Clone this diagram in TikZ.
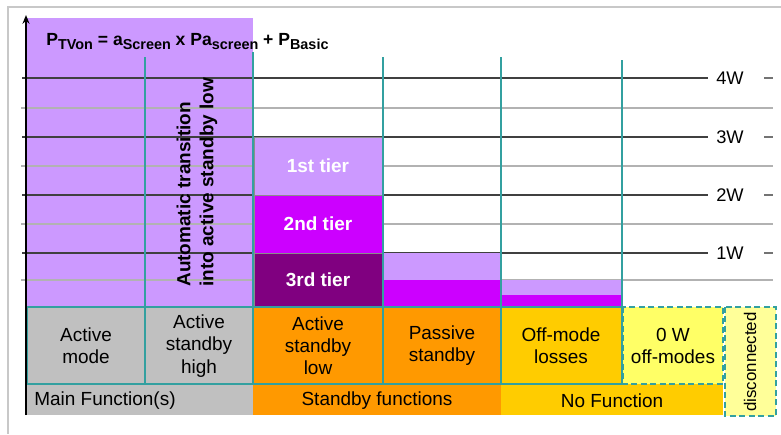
\documentclass[tikz,border=0pt]{standalone}
\usepackage{fontspec}
\setmainfont{Liberation Sans}
\usetikzlibrary{arrows.meta}

\definecolor{lilac}{HTML}{CC99FF}
\definecolor{tiermagenta}{HTML}{CC00FF}
\definecolor{tierplum}{HTML}{800080}
\definecolor{modegray}{HTML}{C0C0C0}
\definecolor{standbyorange}{HTML}{FF9900}
\definecolor{offgold}{HTML}{FFCC00}
\definecolor{zeroyellow}{HTML}{FFFF66}
\definecolor{unplugyellow}{HTML}{FFFF99}
\definecolor{tealline}{RGB}{51,160,160}
\definecolor{framegray}{RGB}{200,200,200}

%% subscripts of the power formula
\newcommand\lowsub[1]{\raisebox{-2.8pt}{\fontsize{8.2pt}{9pt}\selectfont #1}}

\tikzset{
  grid major/.style={draw=black!75, line width=0.6pt},
  grid minor/.style={draw=black!30, line width=0.6pt},
  divider/.style={draw=tealline, line width=1.1pt},
  tierbar/.style={draw=black!45, line width=0.3pt},
  dashbox/.style={draw=tealline, line width=1.1pt, dash pattern=on 3.4pt off 2pt},
  celltext/.style={font=\fontsize{10.8pt}{12.6pt}\selectfont, align=center, inner sep=0pt},
  tiertext/.style={celltext, font=\fontsize{10.8pt}{12.6pt}\selectfont\bfseries, text=white},
  wlabel/.style={font=\fontsize{10.4pt}{12pt}\selectfont, inner sep=0pt},
}

\begin{document}
\begin{tikzpicture}[x=0.02cm,y=-0.02cm]
    \useasboundingbox (0,0) rectangle (781,434);
    %% frame
    \draw[framegray, line width=1.1pt] (781,7) -- (8,7) -- (8,434);
    %% on-mode block
    \fill[lilac] (27,18) rectangle (253,307);
    %% power grid
    \foreach \y in {108,166,224,280}
        \draw[grid minor] (21,\y) -- (773,\y);
    \foreach \y/\w in {78/4,137/3,195/2,253/1} {
        \draw[grid major] (22,\y) -- (708,\y);
        \node[wlabel] (w\w) at (730,\y) {\w W};
        \draw[draw=black!55, line width=0.6pt] (764,\y) -- (773,\y);
    }
    %% tiers of active standby low
    \filldraw[tierbar, fill=lilac] (254,137) rectangle (382,195);
    \filldraw[tierbar, fill=tiermagenta] (254,195) rectangle (382,253);
    \filldraw[tierbar, fill=tierplum] (254,253) rectangle (384,307);
    %% passive standby and off-mode losses
    \fill[lilac] (383,253) rectangle (501,280);
    \fill[tiermagenta] (383,280) rectangle (501,307);
    \fill[lilac] (501,280) rectangle (622,295);
    \fill[tiermagenta] (501,295) rectangle (622,307);
    %% column dividers
    \draw[divider] (145,57) -- (145,307);
    \draw[divider] (253,52) -- (253,307);
    \draw[divider] (383,57) -- (383,307);
    \draw[divider] (501,57) -- (501,307);
    \draw[divider] (622,60) -- (622,307);
    %% mode cells
    \fill[modegray] (27,307) rectangle (253,384);
    \fill[standbyorange] (253,307) rectangle (501,384);
    \fill[offgold] (501,307) rectangle (622,384);
    %% function row
    \fill[modegray] (27,384) rectangle (253,415);
    \fill[standbyorange] (253,384) rectangle (501,415);
    \fill[offgold] (501,384) rectangle (723,415);
    %% cell borders
    \draw[divider] (27,307) rectangle (622,384);
    \foreach \x in {145,253,383,501}
        \draw[divider] (\x,307) -- (\x,384);
    \filldraw[dashbox, fill=zeroyellow] (623,307) rectangle (723,384);
    \filldraw[dashbox, fill=unplugyellow] (725,307) rectangle (776,416);
    %% power axis
    \draw[line width=1.1pt, -{Stealth[length=5pt,width=4pt]}] (26,415) -- (26,15);
    %% texts
    \node[anchor=base west, inner sep=0pt, font=\fontsize{10pt}{12pt}\selectfont\bfseries] (formula) at (46,45)
        {P\lowsub{TVon} = a\lowsub{Screen} x Pa\lowsub{screen} + P\lowsub{Basic}};
    \node[celltext, font=\fontsize{10.8pt}{13pt}\selectfont\bfseries, rotate=90, anchor=west, align=left] (transition) at (197,287)
        {Automatic transition\\into active standby low};
    \node[tiertext] (tier1) at (318,166) {1st tier};
    \node[tiertext] (tier2) at (318,224) {2nd tier};
    \node[tiertext] (tier3) at (318,280) {3rd tier};
    \node[celltext] (active) at (86,346) {Active\\mode};
    \node[celltext] (high) at (199,346) {Active\\standby\\high};
    \node[celltext] (low) at (318,346) {Active\\standby\\low};
    \node[celltext] (passive) at (442,346) {Passive\\standby};
    \node[celltext] (losses) at (561,346) {Off-mode\\losses};
    \node[celltext] (zero) at (673,346) {0 W\\off-modes};
    \node[celltext, font=\fontsize{9.6pt}{11pt}\selectfont, rotate=90] (unplugged) at (750,362) {disconnected};
    \node[celltext, anchor=west] (mainfn) at (34,401) {Main Function(s)};
    \node[celltext] (standbyfn) at (377,401) {Standby functions};
    \node[celltext] (nofn) at (612,401) {No Function};
\end{tikzpicture}
\end{document}
